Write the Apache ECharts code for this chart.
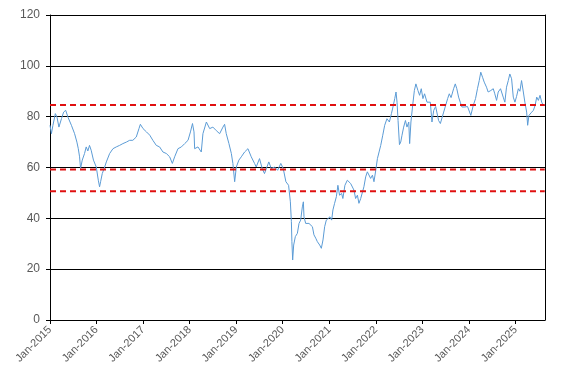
<!DOCTYPE html>
<html>
<head>
<meta charset="utf-8">
<script src="https://cdn.jsdelivr.net/npm/echarts@6/dist/echarts.min.js"></script>
<style>html,body{margin:0;padding:0;background:#fff}#c{width:573px;height:384px}</style>
</head>
<body>
<div id="c"></div>
<script>
var dates = ['2015-01-01','2015-01-12','2015-01-24','2015-02-12','2015-02-25','2015-03-12','2015-04-01','2015-04-18','2015-05-04','2015-05-22','2015-06-18','2015-07-13','2015-07-31','2015-08-11','2015-08-21','2015-08-29','2015-09-11','2015-09-29','2015-10-12','2015-10-25','2015-11-07','2015-11-20','2015-12-08','2015-12-30',
'2016-01-15','2016-01-25','2016-02-02','2016-02-15','2016-03-05','2016-03-18','2016-04-13','2016-05-09','2016-06-04','2016-06-30','2016-07-26','2016-08-22','2016-09-17','2016-10-12','2016-11-08','2016-11-29','2016-12-10','2016-12-31',
'2017-01-27','2017-02-22','2017-03-18','2017-04-14','2017-05-10','2017-06-05','2017-07-02','2017-07-28','2017-08-18','2017-09-05','2017-10-01','2017-10-28','2017-11-23','2017-12-19',
'2018-01-07','2018-01-23','2018-02-04','2018-02-09','2018-03-07','2018-04-02','2018-04-15','2018-05-12','2018-06-07','2018-07-02','2018-07-29','2018-08-24','2018-09-19','2018-10-02','2018-10-15','2018-11-05','2018-11-24','2018-12-06','2018-12-20',
'2019-01-02','2019-01-22','2019-02-10','2019-03-08','2019-04-03','2019-04-16','2019-04-29','2019-05-25','2019-06-07','2019-07-03','2019-07-24','2019-08-11','2019-09-14','2019-10-03','2019-10-29','2019-11-22','2019-12-17',
'2020-01-05','2020-01-26','2020-02-16','2020-03-01','2020-03-09','2020-03-13','2020-03-19','2020-03-27','2020-04-09','2020-04-25','2020-05-08','2020-05-21','2020-06-03','2020-06-11','2020-06-16','2020-06-29','2020-07-25','2020-08-21','2020-09-02','2020-09-16','2020-09-29','2020-10-17','2020-10-30','2020-11-12','2020-11-25','2020-12-08',
'2021-01-06','2021-01-19','2021-01-29','2021-02-11','2021-02-25','2021-03-09','2021-03-22','2021-04-07','2021-04-17','2021-05-03','2021-05-22','2021-06-04','2021-06-17','2021-07-13','2021-07-26','2021-08-09','2021-08-21','2021-09-04','2021-09-17','2021-09-29','2021-10-13','2021-10-26','2021-11-21','2021-12-05','2021-12-17','2021-12-31',
'2022-01-13','2022-01-26','2022-02-08','2022-02-24','2022-03-11','2022-03-29','2022-04-17','2022-05-03','2022-05-15','2022-05-29','2022-06-08','2022-06-16','2022-06-24','2022-07-05','2022-07-15','2022-07-25','2022-08-07','2022-08-21','2022-09-02','2022-09-16','2022-09-23','2022-10-03','2022-10-17','2022-10-30','2022-11-11','2022-11-27','2022-12-10','2022-12-23',
'2023-01-05','2023-01-18','2023-02-06','2023-03-04','2023-03-17','2023-03-31','2023-04-15','2023-05-08','2023-05-22','2023-06-17','2023-07-18','2023-07-31','2023-08-14','2023-09-03','2023-09-16','2023-09-28','2023-10-12','2023-10-25','2023-11-07','2023-11-30','2023-12-21',
'2024-01-16','2024-02-04','2024-02-22','2024-03-08','2024-03-22','2024-04-03','2024-04-17','2024-04-30','2024-05-18','2024-05-31','2024-06-21','2024-07-10','2024-07-22','2024-08-05','2024-08-18','2024-09-05','2024-09-26','2024-10-09','2024-10-22','2024-11-05','2024-11-17','2024-12-01','2024-12-14','2024-12-27',
'2025-01-09','2025-01-23','2025-02-04','2025-02-17','2025-03-03','2025-03-15','2025-03-29','2025-04-06','2025-04-16','2025-05-03','2025-05-21','2025-06-04','2025-06-16','2025-06-29','2025-07-12','2025-07-25','2025-08-07','2025-08-20'];

var values = [76.6,73.3,76.6,81.2,79.8,75.9,79.2,81.8,82.5,79.8,76.6,73.3,70.0,67.4,64.2,59.6,62.9,65.5,68.1,66.5,68.7,66.8,62.9,60.2,
55.0,52.4,54.4,57.6,60.2,62.2,65.5,67.4,68.1,68.7,69.4,70.0,70.7,70.7,72.0,75.3,77.0,75.3,
74.0,72.7,70.7,68.7,68.1,66.1,65.5,64.2,61.6,64.2,67.4,68.1,69.4,70.7,
74.0,77.3,74.0,67.4,68.1,66.1,73.3,77.9,75.3,75.9,74.5,73.3,75.9,77.0,73.3,69.4,65.5,61.6,54.4,
60.2,62.9,64.2,66.1,67.4,68.1,64.2,61.6,60.2,63.5,59.6,57.6,62.2,59.6,60.2,58.9,61.6,
59.6,54.4,53.0,46.5,38.7,30.8,23.6,29.5,32.8,34.1,38.0,39.3,44.5,46.5,40.6,38.0,38.0,36.7,33.5,32.2,30.8,29.5,28.2,31.5,36.7,39.3,
40.6,39.3,43.3,45.9,48.5,53.0,49.1,49.8,47.8,53.0,55.0,55.7,53.7,51.1,47.8,49.1,45.9,47.8,48.5,52.4,56.3,58.3,55.7,57.0,54.4,58.9,
63.5,66.1,68.7,72.7,76.6,79.2,77.9,81.2,83.8,87.1,89.7,85.7,78.5,69.0,70.0,72.7,75.9,78.5,75.9,77.9,69.4,77.9,84.6,90.3,92.9,90.3,88.4,91.0,
87.1,89.0,85.7,85.7,77.9,82.5,84.0,78.5,77.3,81.8,87.1,89.0,87.5,91.0,92.9,91.0,87.7,85.7,83.8,83.8,84.0,
80.5,84.4,87.1,91.0,94.2,97.5,95.5,93.6,91.6,89.7,90.3,91.0,89.0,86.4,89.7,91.0,87.7,85.7,91.6,94.2,96.8,94.9,87.7,85.7,
88.0,91.0,90.0,94.2,89.7,85.7,81.8,76.6,80.5,81.5,82.5,84.5,87.7,86.4,88.4,85.7,84.4,84.4];

var refLevels = [84.6, 59.2, 50.7];
var yTicks = [0, 20, 40, 60, 80, 100, 120];
var tickYears = [2015,2016,2017,2018,2019,2020,2021,2022,2023,2024,2025];

function toT(s){ var p = s.split('-'); return Date.UTC(+p[0], +p[1]-1, +p[2]); }
var lineData = dates.map(function(d, i){ return [toT(d), values[i]]; });
var startT = Date.UTC(2015,0,1);
var endT = toT(dates[dates.length-1]);
var yearTs = tickYears.map(function(y){ return Date.UTC(y,0,1); });

var series = [{
  type: 'line', data: lineData, showSymbol: false, symbol: 'none',
  lineStyle: { color: '#5b9bd5', width: 1 }, z: 3, animation: false
}];
refLevels.forEach(function(v){
  series.push({
    type: 'line', data: [[startT, v], [endT - 86400000*2, v]], showSymbol: false, symbol: 'none',
    lineStyle: { color: '#e01010', width: 2, type: [6, 4] }, z: 4, animation: false
  });
});

var chart = echarts.init(document.getElementById('c'), null, { renderer: 'canvas' });
chart.setOption({
  animation: false,
  grid: { left: 50, right: 28, top: 15, bottom: 64, containLabel: false },
  xAxis: {
    type: 'value', min: startT, max: endT, scale: true,
    axisLine: { show: true, lineStyle: { color: '#000', width: 1 } },
    axisTick: { show: true, length: 4, lineStyle: { color: '#000' }, customValues: yearTs },
    axisLabel: {
      customValues: yearTs, rotate: 45, margin: 8, color: '#595959', fontSize: 11,
      fontFamily: 'Liberation Sans, Arial, sans-serif',
      formatter: function(v){ return 'Jan-' + new Date(v).getUTCFullYear(); }
    },
    splitLine: { show: false }
  },
  yAxis: [{
    type: 'value', min: 0, max: 120, interval: 20,
    axisLine: { show: true, lineStyle: { color: '#000', width: 1 } },
    axisTick: { show: true, length: 4, lineStyle: { color: '#000' } },
    axisLabel: { color: '#595959', fontSize: 12, margin: 10, fontFamily: 'Liberation Sans, Arial, sans-serif' },
    splitLine: { show: true, lineStyle: { color: '#000', width: 1 } }
  }, {
    type: 'value', min: 0, max: 120, interval: 20, position: 'right',
    axisLine: { show: true, lineStyle: { color: '#000', width: 1 } },
    axisTick: { show: false }, axisLabel: { show: false }, splitLine: { show: false }
  }],
  series: series
});
</script>
</body>
</html>
